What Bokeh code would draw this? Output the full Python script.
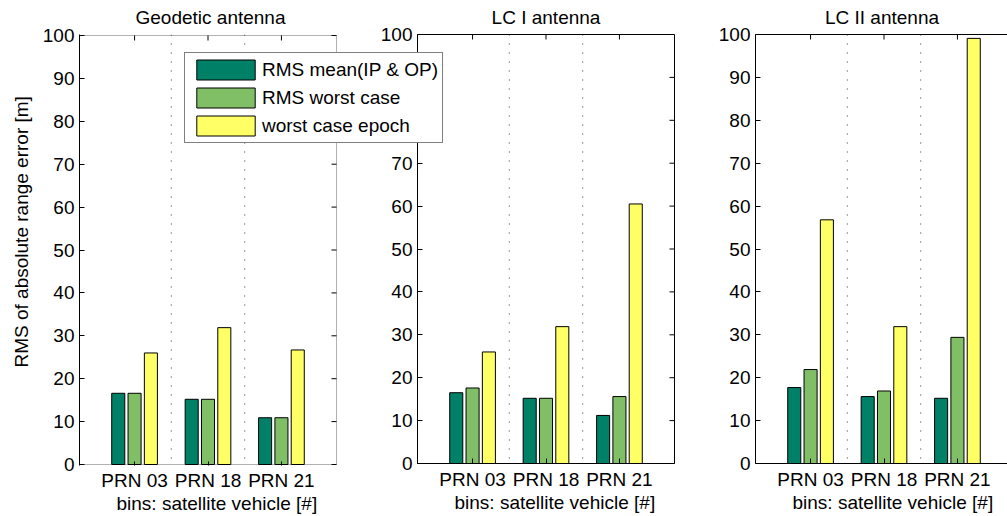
from math import pi
from bokeh.plotting import figure
from bokeh.layouts import row
from bokeh.models import (ColumnDataSource, FixedTicker, LinearAxis, Range1d, Span, Title,
                          BoxAnnotation)
from bokeh.transform import dodge
from bokeh.embed import file_html
from bokeh.resources import INLINE

# ---------------- data ----------------
bins = [1, 2, 3]
categories = ["PRN 03", "PRN 18", "PRN 21"]
panel_titles = ["Geodetic antenna", "LC I antenna", "LC II antenna"]
series_names = ["RMS mean(IP & OP)", "RMS worst case", "worst case epoch"]
series_colors = ["#008066", "#80BF66", "#FFFF66"]
y_ticks = [0, 10, 20, 30, 40, 50, 60, 70, 80, 90, 100]
separators = [1.5, 2.5]
x_lim = [0.25, 3.75]
y_lim = [0, 100]

geodetic_mean = [16.6, 15.2, 10.9]
geodetic_worst = [16.6, 15.2, 10.9]
geodetic_epoch = [26.0, 31.9, 26.7]

lc1_mean = [16.5, 15.2, 11.2]
lc1_worst = [17.6, 15.2, 15.6]
lc1_epoch = [26.0, 31.9, 60.5]

lc2_mean = [17.7, 15.6, 15.2]
lc2_worst = [21.9, 16.9, 29.4]
lc2_epoch = [56.8, 31.9, 99.1]

x_label = "bins: satellite vehicle [#]"
y_label = "RMS of absolute range error [m]"

FONT = "Liberation Sans"
FS = "19px"
BAR_W = 0.1778
OFFS = [-0.2222, 0.0, 0.2222]
COLS = ["mean", "worst", "epoch"]
PX_X = 257 / 3.5      # pixels per x unit
PX_Y = 429 / 100.0    # pixels per y unit


def make_panel(title, mean, worst, epoch, left_b, right_b, frame_w, x_end,
               mode="normal"):
    """mode: 'first' (with legend, frame extended to the right), 'normal', 'last'."""
    src = ColumnDataSource(dict(x=bins, mean=mean, worst=worst, epoch=epoch))
    if mode == "first":
        pad = 1 / PX_Y
        yr = Range1d(y_lim[0] - pad, y_lim[1] + pad)
        fh, bt, bb = 431, 33, 52
    else:
        yr = Range1d(*y_lim)
        fh, bt, bb = 429, 34, 53
    p = figure(frame_width=frame_w, frame_height=fh,
               x_range=Range1d(x_lim[0], x_end), y_range=yr,
               output_backend="svg", toolbar_location=None,
               min_border_left=left_b, min_border_right=right_b,
               min_border_top=bt, min_border_bottom=bb, title=title)
    p.xgrid.visible = False
    p.ygrid.visible = False

    p.title.text_font = FONT
    p.title.text_font_size = FS
    p.title.text_font_style = "normal"
    p.title.text_color = "black"
    p.title.vertical_align = "top"
    if mode == "first":
        p.title.align = "left"
        p.title.offset = 56
        p.title.standoff = 9
    else:
        p.title.align = "center"
        p.title.standoff = 10

    if mode == "first":
        p.background_fill_color = None
        p.border_fill_color = None
        p.outline_line_color = None
        p.add_layout(BoxAnnotation(left=x_lim[0], right=x_lim[1], bottom=y_lim[0], top=y_lim[1],
                                   fill_color="white", fill_alpha=1.0, line_color="black",
                                   line_width=1, level="underlay"))
    else:
        p.background_fill_color = "white"
        p.outline_line_color = "black" if mode == "normal" else None

    for off, col, color, name in zip(OFFS, COLS, series_colors, series_names):
        kw = dict(legend_label=name) if mode == "first" else {}
        p.vbar(x=dodge("x", off, range=p.x_range), top=col, width=BAR_W, source=src,
               fill_color=color, line_color="black", line_width=1, **kw)

    for loc in separators:
        p.add_layout(Span(location=loc, dimension="height", line_color="#333333",
                          line_dash="1 8", line_width=1))

    # inward ticks on the top and right edges
    p.ray(x=bins, y=[y_lim[1]] * len(bins), length=5, length_units="screen",
          angle=-pi / 2, line_color="black", line_width=1)
    if mode != "last":
        p.ray(x=[x_lim[1]] * len(y_ticks), y=y_ticks, length=5, length_units="screen",
              angle=pi, line_color="black", line_width=1)

    for ax in [p.xaxis[0], p.yaxis[0]]:
        ax.major_tick_in = 5
        ax.major_tick_out = 0
        ax.minor_tick_line_color = None
        ax.axis_line_color = "black"
        ax.major_tick_line_color = "black"
        ax.major_label_text_font = FONT
        ax.major_label_text_font_size = FS
        ax.major_label_text_color = "black"
        ax.major_label_standoff = 5
    p.xaxis.ticker = FixedTicker(ticks=bins)
    p.xaxis.major_label_overrides = {b: c for b, c in zip(bins, categories)}
    p.yaxis.ticker = FixedTicker(ticks=y_ticks)
    if mode == "first":
        p.xaxis.axis_line_color = None
        p.xaxis.major_tick_in = 4
        p.xaxis.major_label_standoff = 4

    if mode == "last":
        top = LinearAxis(ticker=FixedTicker(ticks=[]), axis_line_color="black",
                         major_tick_line_color=None, minor_tick_line_color=None)
        p.add_layout(top, "above")

    p.add_layout(Title(text=x_label, align="left", offset=37, text_font=FONT,
                       text_font_size=FS, text_font_style="normal", text_color="black",
                       standoff=-5), "below")

    if mode == "first":
        p.add_layout(Title(text=y_label, align="left", offset=98, text_font=FONT,
                           text_font_size=FS, text_font_style="normal", text_color="black",
                           standoff=16), "left")
        lg = p.legend[0]
        lg.location = (105, 322)
        lg.glyph_width = 73
        lg.glyph_height = 25
        lg.label_standoff = 0
        lg.padding = 4
        lg.spacing = 3
        lg.margin = 0
        lg.label_text_font = FONT
        lg.label_text_font_size = FS
        lg.label_text_color = "black"
        lg.border_line_color = "black"
        lg.border_line_width = 1
        lg.background_fill_color = "white"
        lg.background_fill_alpha = 1.0
    return p


# p1 canvas: 0..445 (panel box 78..335, frame extended to hold the legend)
p1 = make_panel(panel_titles[0], geodetic_mean, geodetic_worst, geodetic_epoch,
                78, 0, 367, x_lim[0] + 367 / PX_X, mode="first")
# p2 canvas: 345..700 ; p3 canvas: 700..1007
p2 = make_panel(panel_titles[1], lc1_mean, lc1_worst, lc1_epoch,
                71, 27, 257, x_lim[1])
p3 = make_panel(panel_titles[2], lc2_mean, lc2_worst, lc2_epoch,
                54, 0, 253, x_lim[0] + 253 / PX_X, mode="last")

p1.styles = {"z-index": "5", "position": "relative"}
p2.styles = {"margin-left": "-100px"}

layout = row(p1, p2, p3)
layout.spacing = 0

open("out.html", "w").write(file_html(layout, INLINE))
